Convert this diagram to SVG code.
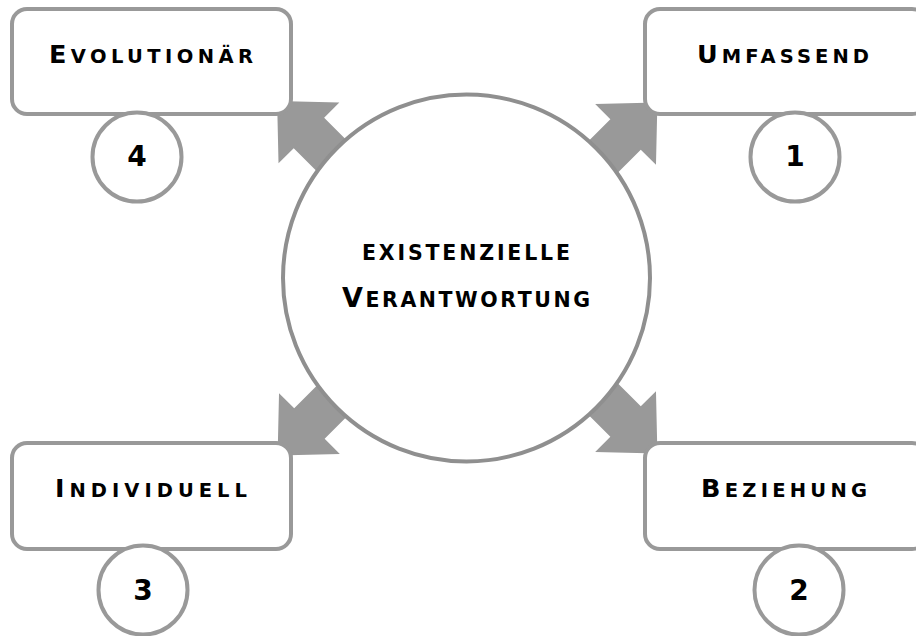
<svg xmlns="http://www.w3.org/2000/svg" width="916" height="636" viewBox="0 0 916 636">
  <style>
    .box { fill: #ffffff; stroke: #999999; stroke-width: 4; }
    .num { fill: #ffffff; stroke: #999999; stroke-width: 4; }
    .hub { fill: #ffffff; stroke: #8f8f8f; stroke-width: 4; }
    .arrow { fill: #999999; stroke: none; }
    .lbl { font-family: "DejaVu Sans", Verdana, sans-serif; font-weight: bold; fill: #000000; }
    .big { font-size: 25.5px; }
    .sm { font-size: 19.5px; }
    .cbig { font-size: 27px; }
    .csm { font-size: 20.5px; }
    .digit { font-family: "DejaVu Sans", Verdana, sans-serif; font-weight: bold; font-size: 28px; fill: #000000; text-anchor: middle; }
  </style>
  <defs>
    <!-- block arrow pointing along +x; base of the head at 214 -->
    <polygon id="blockArrow" points="100,-21.5 214,-21.5 214,-43 259,0 214,43 214,21.5 100,21.5"/>
  </defs>
  <rect width="916" height="636" fill="#ffffff"/>

  <!-- connectors: wide arrows from the hub toward each box corner -->
  <g id="connectors" class="arrow">
    <use href="#blockArrow" transform="translate(460.25,284.25) rotate(225)"/>
    <use href="#blockArrow" transform="translate(474.25,285.75) rotate(-45)"/>
    <use href="#blockArrow" transform="translate(460.75,272.25) rotate(135)"/>
    <use href="#blockArrow" transform="translate(474.25,270.25) rotate(45)"/>
  </g>

  <g id="hub">
    <circle class="hub" cx="466.5" cy="278" r="183.5"/>
    <text class="lbl csm" x="362" y="260" textLength="208" lengthAdjust="spacing">EXISTENZIELLE</text>
    <text class="lbl" x="342" y="307" textLength="248" lengthAdjust="spacing"><tspan class="cbig">V</tspan><tspan class="csm">ERANTWORTUNG</tspan></text>
  </g>

  <g id="evolutionaer">
    <rect class="box" x="12" y="9" width="279" height="105" rx="15"/>
    <text class="lbl" x="49" y="63" textLength="204" lengthAdjust="spacing"><tspan class="big">E</tspan><tspan class="sm">VOLUTIONÄR</tspan></text>
    <circle class="num" cx="137" cy="157" r="44.5"/>
    <text class="digit" x="137" y="166">4</text>
  </g>

  <g id="umfassend">
    <rect class="box" x="645" y="9" width="282" height="105" rx="15"/>
    <text class="lbl" x="697" y="63" textLength="172" lengthAdjust="spacing"><tspan class="big">U</tspan><tspan class="sm">MFASSEND</tspan></text>
    <circle class="num" cx="795" cy="157" r="44.5"/>
    <text class="digit" x="795" y="166">1</text>
  </g>

  <g id="individuell">
    <rect class="box" x="12" y="443" width="279" height="106" rx="15"/>
    <text class="lbl" x="55" y="497" textLength="192" lengthAdjust="spacing"><tspan class="big">I</tspan><tspan class="sm">NDIVIDUELL</tspan></text>
    <circle class="num" cx="143" cy="590" r="44.5"/>
    <text class="digit" x="143" y="600">3</text>
  </g>

  <g id="beziehung">
    <rect class="box" x="645" y="443" width="282" height="106" rx="15"/>
    <text class="lbl" x="701" y="497" textLength="166" lengthAdjust="spacing"><tspan class="big">B</tspan><tspan class="sm">EZIEHUNG</tspan></text>
    <circle class="num" cx="799" cy="590" r="44.5"/>
    <text class="digit" x="799" y="600">2</text>
  </g>
</svg>
